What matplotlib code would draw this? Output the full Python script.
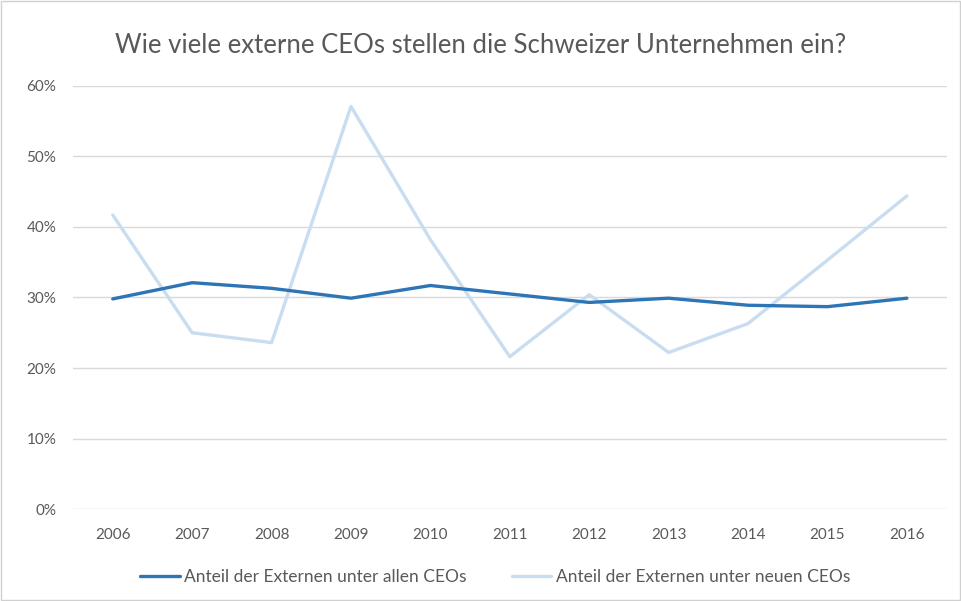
import matplotlib
matplotlib.use("Agg")
import matplotlib.pyplot as plt
from matplotlib.ticker import PercentFormatter

years = ["2006", "2007", "2008", "2009", "2010", "2011", "2012", "2013", "2014", "2015", "2016"]
alle_ceos = [29.8, 32.1, 31.3, 29.9, 31.7, 30.5, 29.3, 29.9, 28.9, 28.7, 29.9]
neue_ceos = [41.7, 25.0, 23.6, 57.1, 38.2, 21.6, 30.4, 22.2, 26.3, 35.3, 44.4]
yticks = [0, 10, 20, 30, 40, 50, 60]
title = "Wie viele externe CEOs stellen die Schweizer Unternehmen ein?"
label_alle = "Anteil der Externen unter allen CEOs"
label_neue = "Anteil der Externen unter neuen CEOs"

plt.rcParams['font.family'] = ['Lato', 'DejaVu Sans']

fig = plt.figure(figsize=(9.61, 6.01), dpi=100)
ax = fig.add_axes([0.076, 0.153, 0.909, 0.704])

x = list(range(len(years)))
ax.plot(x, alle_ceos, color="#2E75B6", lw=2.4, label=label_alle, solid_capstyle="round", zorder=3)
ax.plot(x, neue_ceos, color="#C9DDF0", lw=2.4, label=label_neue, solid_capstyle="round", zorder=2)

ax.set_xlim(-0.5, len(years) - 0.5)
ax.set_ylim(0, 60)
ax.set_yticks(yticks)
ax.yaxis.set_major_formatter(PercentFormatter(decimals=0))
ax.set_xticks(x)
ax.set_xticklabels(years)
ax.grid(axis="y", color="#D9D9D9", lw=1)
ax.set_axisbelow(True)
for s in ax.spines.values():
    s.set_visible(False)
ax.tick_params(axis="both", length=0, labelsize=11, labelcolor="#595959")
ax.tick_params(axis="x", pad=14)
ax.tick_params(axis="y", pad=12)

fig.text(0.5, 0.925, title, ha="center", va="center", fontsize=18.5, color="#595959")

leg = fig.legend(loc="center", bbox_to_anchor=(0.515, 0.04), ncol=2, frameon=False,
                 fontsize=12.5, handlelength=2.3, columnspacing=2.6, handletextpad=0.25)
for t in leg.get_texts():
    t.set_color("#595959")

border = plt.Rectangle((0.001, 0.001), 0.998, 0.998, transform=fig.transFigure,
                       fill=False, edgecolor="#D0D0D0", lw=1)
fig.patches.append(border)

fig.savefig("out.png", dpi=100)
